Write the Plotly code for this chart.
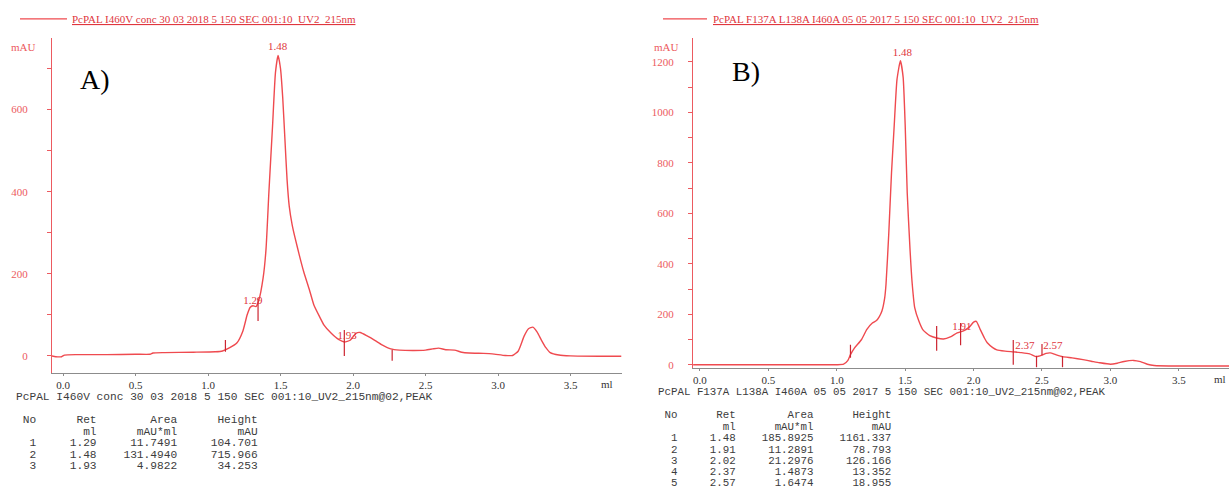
import plotly.graph_objects as go

W, H = 1229, 492
def px(x): return x / W
def py(y): return 1 - y / H

# ---------------- data: panel A ----------------
a_ml = [-0.08, -0.05, -0.01, 0.01, 0.10, 0.30, 0.50, 0.60, 0.62, 0.70, 0.90, 1.05, 1.10, 1.15, 1.20,
        1.24, 1.27, 1.29, 1.31, 1.33, 1.35, 1.38, 1.40, 1.42, 1.445, 1.465, 1.483, 1.50, 1.515, 1.53,
        1.545, 1.56, 1.58, 1.60, 1.63, 1.66, 1.70, 1.73, 1.77, 1.80, 1.85, 1.90, 1.94, 1.98, 2.02,
        2.05, 2.10, 2.15, 2.20, 2.26, 2.32, 2.42, 2.50, 2.55, 2.59, 2.64, 2.70, 2.75, 2.80, 2.90,
        2.96, 3.05, 3.10, 3.14, 3.18, 3.21, 3.24, 3.27, 3.30, 3.33, 3.36, 3.42, 3.50, 3.70, 3.85]
a_mau = [0, -2, -2, 2, 3, 3, 4, 4, 7, 8, 9, 10, 12, 20, 32,
         60, 100, 118, 122, 120, 135, 190, 260, 400, 560, 690, 732, 700, 630, 530,
         430, 365, 320, 288, 245, 205, 160, 124, 95, 75, 55, 40, 34, 38, 55,
         57, 48, 38, 27, 17, 14, 13, 14, 17, 19, 15, 14, 9, 7, 6,
         5, 1, 1, 12, 48, 66, 70, 58, 38, 20, 8, 2, 0, -1, -1]
a_mark_x = [1.12, 1.345, 1.94, 2.27]
a_mark_lo = [10, 85, 0, -12]
a_mark_hi = [39, 140, 63, 15]
a_lab_text = ["1.48", "1.29", "1.93"]
a_lab_x = [1.48, 1.31, 1.96]
a_lab_y = [752, 133, 48]
a_title = "PcPAL I460V conc 30 03 2018 5 150 SEC 001:10_UV2_215nm"
a_report = "PcPAL I460V conc 30 03 2018 5 150 SEC 001:10_UV2_215nm@02,PEAK"
a_no = [1, 2, 3]
a_ret = ["1.29", "1.48", "1.93"]
a_area = ["11.7491", "131.4940", "4.9822"]
a_height = ["104.701", "715.966", "34.253"]

# ---------------- data: panel B ----------------
b_ml = [-0.05, 0.50, 1.00, 1.05, 1.08, 1.10, 1.13, 1.18, 1.22, 1.26, 1.29, 1.31, 1.33, 1.35, 1.36,
        1.38, 1.40, 1.42, 1.44, 1.465, 1.485, 1.50, 1.515, 1.535, 1.55, 1.57, 1.60, 1.63, 1.68, 1.73,
        1.78, 1.83, 1.88, 1.93, 1.97, 2.00, 2.02, 2.05, 2.08, 2.10, 2.14, 2.17, 2.23, 2.29, 2.35,
        2.41, 2.46, 2.50, 2.53, 2.56, 2.60, 2.65, 2.72, 2.80, 2.86, 2.92, 3.00, 3.05, 3.10, 3.17,
        3.22, 3.27, 3.32, 3.50, 3.87]
b_mau = [0, 0, 0, 2, 16, 40, 67, 99, 140, 165, 175, 190, 213, 264, 320,
         520, 760, 950, 1130, 1205, 1140, 950, 680, 461, 330, 225, 173, 138, 115, 106,
         102, 110, 126, 135, 150, 169, 172, 138, 105, 87, 68, 59, 54, 51, 48,
         43, 32, 38, 45, 47, 40, 32, 27, 20, 14, 8, 2, 6, 13, 17,
         12, 2, -3, -5, -5]
b_mark_x = [1.10, 1.73, 1.905, 2.29, 2.46, 2.50, 2.65]
b_mark_lo = [28, 55, 77, 0, -10, 38, -10]
b_mark_hi = [79, 153, 165, 98, 36, 82, 35]
b_lab_text = ["1.48", "1.91", "2.37", "2.57"]
b_lab_x = [1.48, 1.915, 2.375, 2.58]
b_lab_y = [1233, 150, 75, 75]
b_title = "PcPAL F137A L138A I460A 05 05 2017 5 150 SEC 001:10_UV2_215nm"
b_report = "PcPAL F137A L138A I460A 05 05 2017 5 150 SEC 001:10_UV2_215nm@02,PEAK"
b_no = [1, 2, 3, 4, 5]
b_ret = ["1.48", "1.91", "2.02", "2.37", "2.57"]
b_area = ["185.8925", "11.2891", "21.2976", "1.4873", "1.6474"]
b_height = ["1161.337", "78.793", "126.166", "13.352", "18.955"]

x_ticks = [0.0, 0.5, 1.0, 1.5, 2.0, 2.5, 3.0, 3.5]
a_yticks = [0, 200, 400, 600]
b_yticks = [0, 200, 400, 600, 800, 1000, 1200]

# ---------------- styles ----------------
CURVE = "#ef4a4f"
MARK = "#cc2531"
AXR = "#ec5a60"
LAB = "#e0363e"
GRAYAX = "#8c8c8c"
TXT = "#333333"
TAB = "#3c3c3c"
SERIF = "Liberation Serif"
MONO = "Liberation Mono"

fig = go.Figure()

def add_panel(xa, ya, ml, mau, mx, mlo, mhi, lx, ly, lt):
    fig.add_trace(go.Scatter(x=ml, y=mau, mode="lines", xaxis=xa, yaxis=ya,
                             line=dict(color=CURVE, width=1.4, shape="spline", smoothing=0.5),
                             hoverinfo="skip"))
    sx, sy = [], []
    for x, lo, hi in zip(mx, mlo, mhi):
        sx += [x, x, None]
        sy += [lo, hi, None]
    fig.add_trace(go.Scatter(x=sx, y=sy, mode="lines", xaxis=xa, yaxis=ya,
                             line=dict(color=MARK, width=1.2), hoverinfo="skip"))
    fig.add_trace(go.Scatter(x=lx, y=ly, mode="text", text=lt, xaxis=xa, yaxis=ya,
                             textfont=dict(family=SERIF, size=11, color=LAB), hoverinfo="skip"))

add_panel("x", "y", a_ml, a_mau, a_mark_x, a_mark_lo, a_mark_hi, a_lab_x, a_lab_y, a_lab_text)
add_panel("x2", "y2", b_ml, b_mau, b_mark_x, b_mark_lo, b_mark_hi, b_lab_x, b_lab_y, b_lab_text)

def xaxis_cfg(domain, rng, anchor):
    return dict(domain=domain, range=rng, anchor=anchor, showline=True, linecolor=GRAYAX,
                linewidth=1, tickvals=x_ticks, ticktext=[f"{v:.1f}" for v in x_ticks],
                ticks="outside", ticklen=2, tickcolor=GRAYAX,
                tickfont=dict(family=SERIF, size=11, color=TXT),
                showgrid=False, zeroline=False, fixedrange=True)

def yaxis_cfg(domain, rng, anchor, tv, standoff):
    return dict(domain=domain, range=rng, anchor=anchor, showline=True, linecolor=AXR,
                linewidth=1, tickvals=tv, ticktext=[str(v) for v in tv],
                ticks="outside", ticklen=4, tickcolor=AXR,
                minor=dict(dtick=100, ticks="outside", ticklen=4, tickcolor=AXR),
                tickfont=dict(family=SERIF, size=11, color=AXR),
                ticklabelstandoff=standoff,
                showgrid=False, zeroline=False, fixedrange=True)

fig.update_layout(
    width=W, height=H,
    margin=dict(l=0, r=0, t=0, b=0),
    paper_bgcolor="white", plot_bgcolor="white",
    showlegend=False,
    xaxis=xaxis_cfg([px(52), px(622)], [-0.076, 3.855], "y"),
    yaxis=yaxis_cfg([py(375), py(38)], [-41, 775], "x", a_yticks, 17),
    xaxis2=xaxis_cfg([px(693), px(1229)], [-0.051, 3.867], "y2"),
    yaxis2=yaxis_cfg([py(370), py(38)], [-12, 1296], "x2", b_yticks, 12),
)

ann = []
shapes = []
def txt(x, y, s, size=11, color=TXT, family=SERIF, xanchor="left"):
    ann.append(dict(x=px(x), y=py(y), xref="paper", yref="paper", text=s, showarrow=False,
                    xanchor=xanchor, yanchor="middle", font=dict(family=family, size=size, color=color)))

# legend-like titles
shapes.append(dict(type="line", xref="paper", yref="paper", x0=px(20), x1=px(67), y0=py(19), y1=py(19),
                   line=dict(color=CURVE, width=1.2)))
txt(70, 19, "<u>" + a_title + "</u>", color=LAB)
shapes.append(dict(type="line", xref="paper", yref="paper", x0=px(663), x1=px(707), y0=py(19), y1=py(19),
                   line=dict(color=CURVE, width=1.2)))
txt(711, 19, "<u>" + b_title + "</u>", color=LAB)

# axis unit labels
txt(23, 47, "mAU", color=AXR, xanchor="center")
txt(666, 47, "mAU", color=AXR, xanchor="center")
txt(607, 386, "ml", xanchor="center")
txt(1220, 381, "ml", xanchor="center")

# panel letters
txt(95, 80, "A)", size=28, color="black", family="Liberation Serif", xanchor="center")
txt(746, 72, "B)", size=28, color="black", family="Liberation Serif", xanchor="center")

# report tables
def table(x0, y_report, y_rows, report, no, ret, area, height, size):
    txt(x0, y_report, report, family=MONO, color=TAB, size=size)
    lines = [f"{'No':>3}{'Ret':>9}{'Area':>12}{'Height':>12}",
             f"{'':>3}{'ml':>9}{'mAU*ml':>12}{'mAU':>12}"]
    for n, r, a, h in zip(no, ret, area, height):
        lines.append(f"{n:>3}{r:>9}{a:>12}{h:>12}")
    for s, y in zip(lines, y_rows):
        txt(x0, y, s.replace(" ", "&nbsp;"), family=MONO, color=TAB, size=size)

table(14, 399, [423, 434.5, 446, 457.5, 469], a_report, a_no, a_ret, a_area, a_height, 11.2)
table(656, 394, [418, 429.5, 441, 452.3, 463.6, 475, 486.3], b_report, b_no, b_ret, b_area, b_height, 10.8)

fig.update_layout(annotations=ann, shapes=shapes)
fig.write_html("out.html")
